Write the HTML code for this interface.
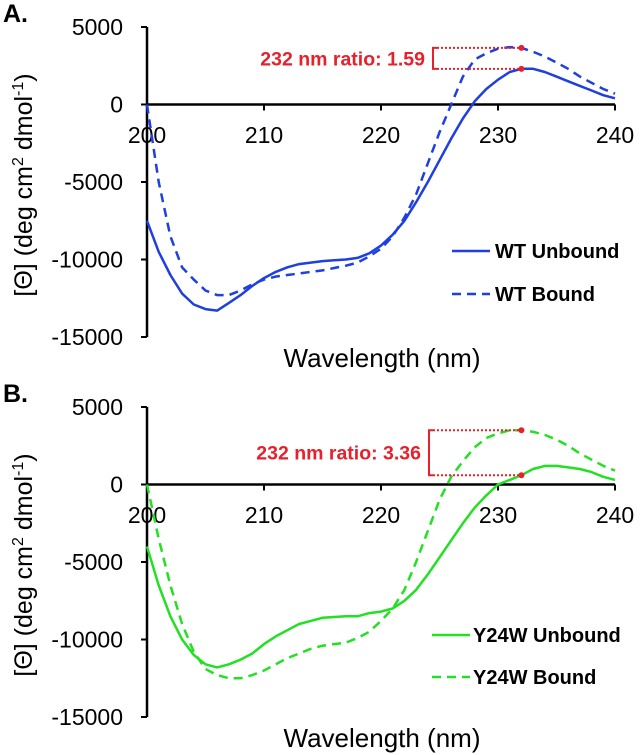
<!DOCTYPE html>
<html><head><meta charset="utf-8"><style>
html,body{margin:0;padding:0;background:#fff;}
svg{display:block;font-family:"Liberation Sans",Arial,sans-serif;}
</style></head><body>
<svg id="chart" width="640" height="755" viewBox="0 0 640 755"></svg>
<script>
const wavelengths=[200,201,202,203,204,205,206,207,208,209,210,211,212,213,214,215,216,217,218,219,220,221,222,223,224,225,226,227,228,229,230,231,232,233,234,235,236,237,238,239,240];
const wtUnbound=[-7500,-9500,-11000,-12200,-12900,-13200,-13300,-12800,-12300,-11700,-11200,-10800,-10500,-10300,-10200,-10100,-10050,-10000,-9900,-9600,-9100,-8400,-7500,-6300,-5000,-3600,-2200,-900,200,1000,1600,2100,2300,2300,2100,1800,1500,1200,900,600,400];
const wtBound=[0,-5000,-8500,-10500,-11300,-12000,-12300,-12300,-12000,-11600,-11300,-11100,-11000,-10900,-10800,-10700,-10550,-10400,-10200,-9800,-9300,-8500,-7300,-5800,-3800,-1800,0,1800,2900,3300,3600,3700,3650,3400,3100,2700,2300,1800,1400,1000,700];
const y24wUnbound=[-4000,-6500,-8500,-10000,-11000,-11600,-11800,-11600,-11300,-10900,-10300,-9800,-9400,-9000,-8800,-8600,-8550,-8500,-8500,-8300,-8200,-8000,-7500,-6800,-5800,-4700,-3600,-2500,-1500,-700,0,300,600,1000,1200,1200,1100,1000,800,500,300];
const y24wBound=[0,-3500,-6500,-9000,-10800,-11900,-12300,-12500,-12500,-12300,-12000,-11600,-11200,-10900,-10600,-10400,-10300,-10200,-9900,-9500,-8800,-8000,-6800,-5000,-3000,-1000,500,1500,2400,3000,3300,3500,3500,3400,3200,2900,2500,2000,1600,1200,900];
const yTicks=[5000,0,-5000,-10000,-15000];
const xTicks=[200,210,220,230,240];
const ratioA=["232 nm ratio: 1.59"];
const ratioB=["232 nm ratio: 3.36"];
const markWavelength=[232];

const NS="http://www.w3.org/2000/svg";
const svg=document.getElementById('chart');
function mk(tag,attrs,parent,text){const e=document.createElementNS(NS,tag);for(const k in attrs)e.setAttribute(k,attrs[k]);if(text!==undefined)e.textContent=text;(parent||svg).appendChild(e);return e;}

function panel(oy,letter,color,unb,bnd,names,ratio,legendX,legendTextX,panelName){
  const g=mk('g',{});
  
  
  const x0=147,x1=615;
  const yTop=oy+27,yZero=oy+104.5;
  const X=w=>x0+(w-200)/(40)*(x1-x0);
  const Y=v=>yZero-(v/5000)*((yZero-yTop));
  let t=mk('text',{x:3,y:oy+22,'font-size':25,'font-weight':'bold'},g,letter+'.');
  
  let a=mk('line',{x1:x0,y1:Y(5000),x2:x0,y2:Y(-15000),stroke:'#000','stroke-width':2.5},g);
  
  a=mk('line',{x1:x0,y1:yZero,x2:x1,y2:yZero,stroke:'#000','stroke-width':2.5},g);
  
  yTicks.forEach(v=>{
    mk('line',{x1:x0-6,y1:Y(v),x2:x0,y2:Y(v),stroke:'#000','stroke-width':2},g);
    const tl=mk('text',{x:123,y:Y(v)+8,'font-size':23,'text-anchor':'end'},g,String(v));
    
  });
  xTicks.forEach(v=>{
    mk('line',{x1:X(v),y1:yZero,x2:X(v),y2:yZero+6,stroke:'#000','stroke-width':2},g);
    const tl=mk('text',{x:X(v),y:oy+143,'font-size':23,'text-anchor':'middle'},g,String(v));
    
  });
  t=mk('text',{x:382,y:oy+367,'font-size':26,'text-anchor':'middle'},g,'Wavelength (nm)');
  
  t=mk('text',{x:0,y:0,'font-size':25,'text-anchor':'middle',transform:`translate(32,${oy+185}) rotate(-90)`},g);
  
  t.appendChild(document.createTextNode('[Θ] (deg cm'));
  mk('tspan',{'font-size':16,dy:-9},t,'2');
  mk('tspan',{dy:9},t,' dmol');
  mk('tspan',{'font-size':16,dy:-9},t,'-1');
  mk('tspan',{dy:9},t,')');
  const path=arr=>arr.map((v,i)=>(i?'L':'M')+X(wavelengths[i]).toFixed(1)+','+Y(v).toFixed(1)).join('');
  let p=mk('path',{d:path(unb),fill:'none',stroke:color,'stroke-width':2.5,'stroke-linejoin':'round'},g);
  
  p=mk('path',{d:path(bnd),fill:'none',stroke:color,'stroke-width':2.5,'stroke-dasharray':'9,6'},g);
  
  const mi=wavelengths.indexOf(markWavelength[0]);
  const yHi=Y(bnd[mi]),yLo=Y(unb[mi]),xm=X(markWavelength[0]);
  const bx=legendX.bx;
  const ann=mk('g',{},g);
  
  mk('path',{d:`M${bx+4},${yHi}L${bx},${yHi}L${bx},${yLo}L${bx+4},${yLo}`,fill:'none',stroke:'#e8202a','stroke-width':2},ann);
  mk('line',{x1:bx+4,y1:yHi,x2:xm,y2:yHi,stroke:'#e8202a','stroke-width':2,'stroke-dasharray':'2,2'},ann);
  mk('line',{x1:bx+4,y1:yLo,x2:xm,y2:yLo,stroke:'#e8202a','stroke-width':2,'stroke-dasharray':'2,2'},ann);
  mk('circle',{cx:xm,cy:yHi,r:3,fill:'#e8202a'},ann);
  mk('circle',{cx:xm,cy:yLo,r:3,fill:'#e8202a'},ann);
  mk('text',{x:bx-8,y:(yHi+yLo)/2+7,'font-size':19.5,'font-weight':'bold',fill:'#e8202a','text-anchor':'end'},ann,ratio[0]);
  const lg=mk('g',{},g);
  
  const ly1=oy+legendX.ly1,ly2=oy+legendX.ly2;
  let e=mk('line',{x1:legendX.lx,y1:ly1,x2:legendX.lx+38,y2:ly1,stroke:color,'stroke-width':2.5},lg);
  
  e=mk('text',{x:legendTextX,y:ly1+7,'font-size':20,'font-weight':'bold'},lg,names[0]);
  
  e=mk('line',{x1:legendX.lx,y1:ly2,x2:legendX.lx+38,y2:ly2,stroke:color,'stroke-width':2.5,'stroke-dasharray':'9,6'},lg);
  
  e=mk('text',{x:legendTextX,y:ly2+7,'font-size':20,'font-weight':'bold'},lg,names[1]);
  
}
panel(0,'A','#1f3fe0',wtUnbound,wtBound,['WT Unbound','WT Bound'],ratioA,{bx:433,lx:452,ly1:251,ly2:294},495,'panel-a-wt');
panel(380,'B','#22e022',y24wUnbound,y24wBound,['Y24W Unbound','Y24W Bound'],ratioB,{bx:429,lx:432,ly1:255,ly2:297},473,'panel-b-y24w');
</script>
</body></html>
